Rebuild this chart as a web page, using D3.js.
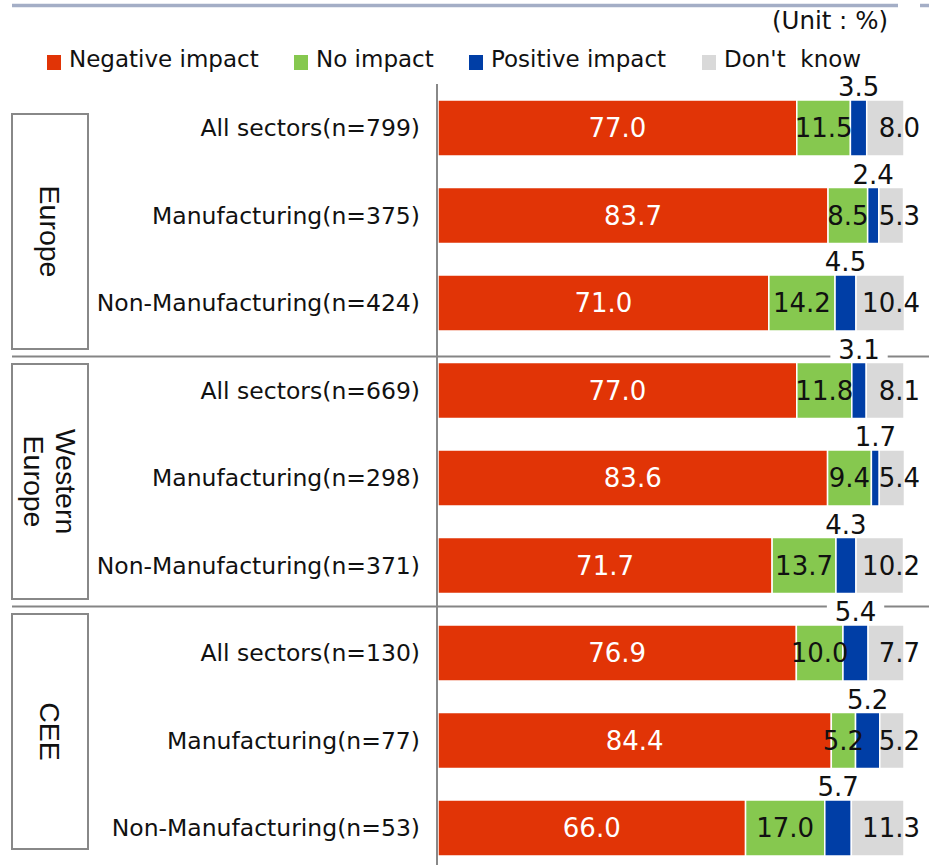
<!DOCTYPE html>
<html>
<head>
<meta charset="utf-8">
<script src="https://cdn.jsdelivr.net/npm/d3@7"></script>
<style>
  body { margin: 0; background: white; }
  svg { display: block; }
</style>
</head>
<body>
<div id="chart"></div>
<script>
/* DATA */
const groups = ["Europe", "Western Europe", "CEE"];
const rowLabels = [
  "All sectors(n=799)", "Manufacturing(n=375)", "Non-Manufacturing(n=424)",
  "All sectors(n=669)", "Manufacturing(n=298)", "Non-Manufacturing(n=371)",
  "All sectors(n=130)", "Manufacturing(n=77)", "Non-Manufacturing(n=53)"
];
const negativeImpact = [77.0, 83.7, 71.0, 77.0, 83.6, 71.7, 76.9, 84.4, 66.0];
const noImpact       = [11.5, 8.5, 14.2, 11.8, 9.4, 13.7, 10.0, 5.2, 17.0];
const positiveImpact = [3.5, 2.4, 4.5, 3.1, 1.7, 4.3, 5.4, 5.2, 5.7];
const dontKnow       = [8.0, 5.3, 10.4, 8.1, 5.4, 10.2, 7.7, 5.2, 11.3];
const seriesNames = ["Negative impact", "No impact", "Positive impact", "Don't  know"];

/* CONSTANTS AND GLOBALS */
const width = 929, height = 865;
const colors = ["#e13406", "#86c84f", "#003ea6", "#d9d9d9"];
const labelFont = "'DejaVu Sans', Verdana, sans-serif";

const svg = d3.select("#chart")
  .append("svg")
  .attr("width", width)
  .attr("height", height);

// build rows for the stack
const data = rowLabels.map((label, i) => ({
  label: label,
  i: i,
  neg: negativeImpact[i],
  no: noImpact[i],
  pos: positiveImpact[i],
  dk: dontKnow[i]
}));
const keys = ["neg", "no", "pos", "dk"];
const stacked = d3.stack().keys(keys)(data);

// scales
const xScale = d3.scaleLinear().domain([0, 100]).range([438, 904]);
const yScale = d3.scaleBand()
  .domain(data.map(d => d.i))
  .range([84.25, 871.75])
  .paddingInner(0.36)
  .paddingOuter(0.18);
const groupScale = d3.scaleBand()
  .domain(groups)
  .range([106.5, 856.5])
  .paddingInner(0.06)
  .paddingOuter(0.03);

// top rule (title bar is cut off above)
svg.append("line")
  .attr("x1", 12).attr("x2", 898)
  .attr("y1", 5.5).attr("y2", 5.5)
  .attr("stroke", "#a4aec6")
  .attr("stroke-width", 3.5);
svg.append("line")
  .attr("x1", 920).attr("x2", 929)
  .attr("y1", 5.5).attr("y2", 5.5)
  .attr("stroke", "#a4aec6")
  .attr("stroke-width", 3.5);

// unit note
svg.append("text")
  .attr("x", 888)
  .attr("y", 29)
  .attr("text-anchor", "end")
  .attr("font-family", labelFont)
  .attr("font-size", "24.5px")
  .attr("fill", "#111")
  .text("(Unit : %)");

// legend
const legendX = [47, 294, 469, 702];
const legend = svg.append("g");
seriesNames.forEach((name, k) => {
  legend.append("rect")
    .attr("x", legendX[k])
    .attr("y", 55)
    .attr("width", 14)
    .attr("height", 15)
    .attr("fill", colors[k]);
  legend.append("text")
    .attr("x", legendX[k] + 22)
    .attr("y", 67)
    .attr("font-family", labelFont)
    .attr("font-size", "23px")
    .attr("fill", "#111")
    .style("white-space", "pre")
    .attr("xml:space", "preserve")
    .text(name);
});

// separators between groups
groups.slice(1).forEach(g => {
  const yy = groupScale(g) - groupScale.step() * groupScale.paddingInner() / 2;
  svg.append("line")
    .attr("x1", 12).attr("x2", width)
    .attr("y1", yy).attr("y2", yy)
    .attr("stroke", "#858585")
    .attr("stroke-width", 2);
});

// group boxes with rotated names
groups.forEach(g => {
  const top = groupScale(g), h = groupScale.bandwidth();
  svg.append("rect")
    .attr("x", 12)
    .attr("y", top)
    .attr("width", 76)
    .attr("height", h)
    .attr("fill", "white")
    .attr("stroke", "#888")
    .attr("stroke-width", 2);
  const words = g.split(" ");
  const t = svg.append("text")
    .attr("transform", `translate(50, ${top + h / 2}) rotate(90)`)
    .attr("text-anchor", "middle")
    .attr("font-family", "'Liberation Sans', Arial, sans-serif")
    .attr("font-size", "28.5px")
    .attr("fill", "#111");
  words.forEach((w, j) => {
    t.append("tspan")
      .attr("x", 0)
      .attr("dy", j === 0 ? (0.35 - (words.length - 1) * 0.55) + "em" : "1.1em")
      .text(w);
  });
});

// category labels
svg.selectAll(".cat-label")
  .data(data)
  .join("text")
  .attr("class", "cat-label")
  .attr("x", 420)
  .attr("y", d => yScale(d.i) + yScale.bandwidth() / 2 + 8)
  .attr("text-anchor", "end")
  .attr("font-family", labelFont)
  .attr("font-size", "23.5px")
  .attr("fill", "#111")
  .text(d => d.label);

// stacked bars
stacked.forEach((layer, k) => {
  svg.selectAll(".bar-" + layer.key)
    .data(layer)
    .join("rect")
    .attr("class", "bar-" + layer.key)
    .attr("x", d => xScale(d[0]))
    .attr("y", d => yScale(d.data.i))
    .attr("width", d => xScale(d[1]) - xScale(d[0]))
    .attr("height", yScale.bandwidth())
    .attr("fill", colors[k])
    .attr("stroke", "white")
    .attr("stroke-width", 1.5);
});

// axis line
svg.append("line")
  .attr("x1", 437).attr("x2", 437)
  .attr("y1", 84).attr("y2", height)
  .attr("stroke", "#888")
  .attr("stroke-width", 2);

// value labels
const valueFont = 26;
const mid = d => yScale(d.data.i) + yScale.bandwidth() / 2 + 9;

svg.selectAll(".neg-label")
  .data(stacked[0])
  .join("text")
  .attr("class", "neg-label")
  .attr("x", d => (xScale(d[0]) + xScale(d[1])) / 2)
  .attr("y", mid)
  .attr("text-anchor", "middle")
  .attr("font-family", labelFont)
  .attr("font-size", valueFont + "px")
  .attr("fill", "white")
  .text(d => d.data.neg.toFixed(1));

svg.selectAll(".no-label")
  .data(stacked[1])
  .join("text")
  .attr("class", "no-label")
  .attr("x", d => (xScale(d[0]) + xScale(d[1])) / 2)
  .attr("y", mid)
  .attr("text-anchor", "middle")
  .attr("font-family", labelFont)
  .attr("font-size", valueFont + "px")
  .attr("fill", "#111")
  .text(d => d.data.no.toFixed(1));

svg.selectAll(".dk-label")
  .data(stacked[3])
  .join("text")
  .attr("class", "dk-label")
  .attr("x", xScale(100) + 16)
  .attr("y", mid)
  .attr("text-anchor", "end")
  .attr("font-family", labelFont)
  .attr("font-size", valueFont + "px")
  .attr("fill", "#111")
  .text(d => d.data.dk.toFixed(1));

// positive labels sit above the blue piece, with a white patch behind
const posG = svg.selectAll(".pos-label")
  .data(stacked[2])
  .join("g")
  .attr("class", "pos-label");
posG.append("rect")
  .attr("fill", "white");
posG.append("text")
  .attr("x", d => (xScale(d[0]) + xScale(d[1])) / 2)
  .attr("y", d => yScale(d.data.i) - 4)
  .attr("text-anchor", "middle")
  .attr("font-family", labelFont)
  .attr("font-size", valueFont + "px")
  .attr("fill", "#111")
  .text(d => d.data.pos.toFixed(1));
posG.each(function() {
  const bb = d3.select(this).select("text").node().getBBox();
  d3.select(this).select("rect")
    .attr("x", bb.x - 8)
    .attr("y", bb.y + 4)
    .attr("width", bb.width + 16)
    .attr("height", bb.height - 6);
});
</script>
</body>
</html>
